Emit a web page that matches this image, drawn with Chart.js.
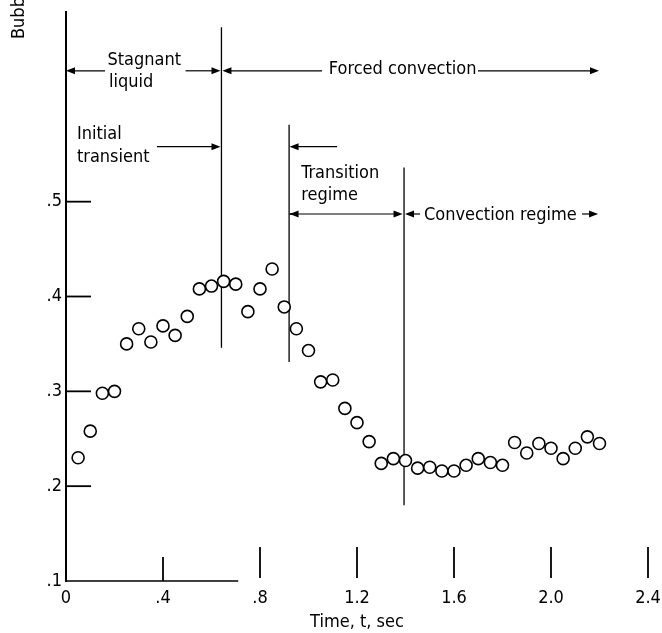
<!DOCTYPE html>
<html>
<head>
<meta charset="utf-8">
<script src="https://cdn.jsdelivr.net/npm/chart.js@4.4.1/dist/chart.umd.min.js"></script>
<style>
  html, body { margin: 0; padding: 0; background: #fff; }
</style>
</head>
<body>
<canvas id="chart" width="662" height="633"></canvas>
<script>
const times = [0.05, 0.10, 0.15, 0.20, 0.25, 0.30, 0.35, 0.40, 0.45, 0.50,
               0.55, 0.60, 0.65, 0.70, 0.75, 0.80, 0.85, 0.90, 0.95, 1.00,
               1.05, 1.10, 1.15, 1.20, 1.25, 1.30, 1.35, 1.40, 1.45, 1.50,
               1.55, 1.60, 1.65, 1.70, 1.75, 1.80, 1.85, 1.90, 1.95, 2.00,
               2.05, 2.10, 2.15, 2.20];
const diameters = [0.230, 0.258, 0.298, 0.300, 0.350, 0.366, 0.352, 0.369, 0.359, 0.379,
                   0.408, 0.411, 0.416, 0.413, 0.384, 0.408, 0.429, 0.389, 0.366, 0.343,
                   0.310, 0.312, 0.282, 0.267, 0.247, 0.224, 0.229, 0.227, 0.219, 0.220,
                   0.216, 0.216, 0.222, 0.229, 0.225, 0.222, 0.246, 0.235, 0.245, 0.240,
                   0.229, 0.240, 0.252, 0.245];

const xTicks = [0, 0.4, 0.8, 1.2, 1.6, 2.0, 2.4];
const xTickLabels = ['0', '.4', '.8', '1.2', '1.6', '2.0', '2.4'];
const yTicks = [0.1, 0.2, 0.3, 0.4, 0.5];
const yTickLabels = ['.1', '.2', '.3', '.4', '.5'];
const xTitle = 'Time, t, sec';
const yTitle = 'Bubble diameter, cm';

// regime boundaries (time) and their vertical extent (diameter units)
const regimeLines = [
  { t: 0.641, top: 0.684, bottom: 0.346 },
  { t: 0.920, top: 0.581, bottom: 0.331 },
  { t: 1.394, top: 0.536, bottom: 0.180 }
];
// arrows: from -> to at height v, heads at 'end' or 'both'
const arrows = [
  { from: 0.161, to: 0.000, v: 0.638, heads: 'end' },
  { from: 0.493, to: 0.637, v: 0.638, heads: 'end' },
  { from: 1.056, to: 0.645, v: 0.638, heads: 'end' },
  { from: 1.699, to: 2.198, v: 0.638, heads: 'end' },
  { from: 0.375, to: 0.637, v: 0.558, heads: 'end' },
  { from: 1.118, to: 0.922, v: 0.558, heads: 'end' },
  { from: 0.922, to: 1.388, v: 0.487, heads: 'both' },
  { from: 1.460, to: 1.398, v: 0.487, heads: 'end' },
  { from: 2.128, to: 2.194, v: 0.487, heads: 'end' }
];
const labels = [
  { text: 'Stagnant', t: 0.171, v: 0.644 },
  { text: 'liquid', t: 0.177, v: 0.621 },
  { text: 'Forced convection', t: 1.084, v: 0.635 },
  { text: 'Initial', t: 0.045, v: 0.566 },
  { text: 'transient', t: 0.045, v: 0.542 },
  { text: 'Transition', t: 0.970, v: 0.525 },
  { text: 'regime', t: 0.970, v: 0.502 },
  { text: 'Convection regime', t: 1.476, v: 0.481 }
];

const FONT = "'DejaVu Sans Condensed', 'DejaVu Sans', sans-serif";
Chart.defaults.font.family = FONT;
Chart.defaults.font.size = 18;
Chart.defaults.color = '#000';

function pickLabel(list, names, v) {
  for (let i = 0; i < list.length; i++) {
    if (Math.abs(list[i] - v) < 1e-6) return names[i];
  }
  return '';
}

function head(ctx, x, y, dir) {
  ctx.beginPath();
  ctx.moveTo(x, y);
  ctx.lineTo(x - dir * 9, y - 3.5);
  ctx.lineTo(x - dir * 9, y + 3.5);
  ctx.closePath();
  ctx.fill();
}

function seg(ctx, x1, y1, x2, y2) {
  ctx.beginPath();
  ctx.moveTo(x1, y1);
  ctx.lineTo(x2, y2);
  ctx.stroke();
}

const inkPlugin = {
  id: 'ink',
  beforeDatasetsDraw(chart) {
    const { ctx, chartArea } = chart;
    const x = chart.scales.x, y = chart.scales.y;
    ctx.save();
    ctx.strokeStyle = '#000';
    ctx.fillStyle = '#000';

    // x axis line, only present near the origin in the original
    ctx.lineWidth = 1.6;
    seg(ctx, x.getPixelForValue(0), chartArea.bottom, x.getPixelForValue(0.71), chartArea.bottom);

    // inward tick marks
    ctx.lineWidth = 1.8;
    xTicks.forEach(function (v) {
      if (v === 0) return;
      const px = x.getPixelForValue(v);
      if (v < 0.71) seg(ctx, px, chartArea.bottom, px, chartArea.bottom - 24);
      else seg(ctx, px, chartArea.bottom - 3, px, chartArea.bottom - 34);
    });
    yTicks.forEach(function (v) {
      if (v === 0.1) return;
      const py = y.getPixelForValue(v);
      seg(ctx, chartArea.left, py, chartArea.left + 25, py);
    });

    // regime boundary lines
    ctx.lineWidth = 1.3;
    regimeLines.forEach(function (r) {
      const px = x.getPixelForValue(r.t);
      seg(ctx, px, y.getPixelForValue(r.top), px, y.getPixelForValue(r.bottom));
    });

    // arrows
    ctx.lineWidth = 1.2;
    arrows.forEach(function (a) {
      const x1 = x.getPixelForValue(a.from), x2 = x.getPixelForValue(a.to);
      const py = y.getPixelForValue(a.v);
      const dir = x2 > x1 ? 1 : -1;
      seg(ctx, x1, py, x2 - dir * 6, py);
      head(ctx, x2, py, dir);
      if (a.heads === 'both') {
        seg(ctx, x1, py, x1 + dir * 6, py);
        head(ctx, x1, py, -dir);
      }
    });

    // text labels
    ctx.font = '18px ' + FONT;
    ctx.textAlign = 'left';
    ctx.textBaseline = 'alphabetic';
    labels.forEach(function (l) {
      ctx.fillText(l.text, x.getPixelForValue(l.t), y.getPixelForValue(l.v));
    });
    ctx.restore();
  },
  afterDraw(chart) {
    // y axis title, cut off by the top edge as in the original
    const { ctx } = chart;
    ctx.save();
    ctx.translate(19, 39);
    ctx.rotate(-Math.PI / 2);
    ctx.font = '18px ' + FONT;
    ctx.fillStyle = '#000';
    ctx.textAlign = 'left';
    ctx.textBaseline = 'middle';
    ctx.fillText(yTitle, 0, 0);
    ctx.restore();
  }
};

new Chart(document.getElementById('chart'), {
  type: 'scatter',
  data: {
    datasets: [{
      data: times.map(function (t, i) { return { x: t, y: diameters[i] }; }),
      pointRadius: 6,
      pointHoverRadius: 6,
      pointBorderWidth: 1.6,
      pointBackgroundColor: '#fff',
      pointBorderColor: '#000'
    }]
  },
  options: {
    responsive: false,
    devicePixelRatio: 1,
    animation: false,
    layout: { padding: { top: 12, right: 14, left: 0, bottom: 0 } },
    plugins: { legend: { display: false }, tooltip: { enabled: false } },
    scales: {
      x: {
        type: 'linear',
        min: 0,
        max: 2.4,
        afterBuildTicks: function (s) { s.ticks = xTicks.map(function (v) { return { value: v }; }); },
        afterFit: function (s) { s.height = 52; s.paddingLeft = 0; s.paddingRight = 0; },
        ticks: {
          padding: 7,
          maxRotation: 0,
          autoSkip: false,
          callback: function (v) { return pickLabel(xTicks, xTickLabels, v); }
        },
        grid: { display: false, drawTicks: false },
        border: { display: false },
        title: { display: true, text: xTitle, padding: { top: 0, bottom: 0 } }
      },
      y: {
        type: 'linear',
        min: 0.1,
        max: 0.7,
        afterBuildTicks: function (s) { s.ticks = yTicks.map(function (v) { return { value: v }; }); },
        afterFit: function (s) { s.width = 66; s.paddingTop = 0; s.paddingBottom = 0; },
        ticks: {
          padding: 4,
          callback: function (v) { return pickLabel(yTicks, yTickLabels, v); }
        },
        grid: { display: false, drawTicks: false },
        border: { display: true, color: '#000', width: 2 }
      }
    }
  },
  plugins: [inkPlugin]
});
</script>
</body>
</html>
